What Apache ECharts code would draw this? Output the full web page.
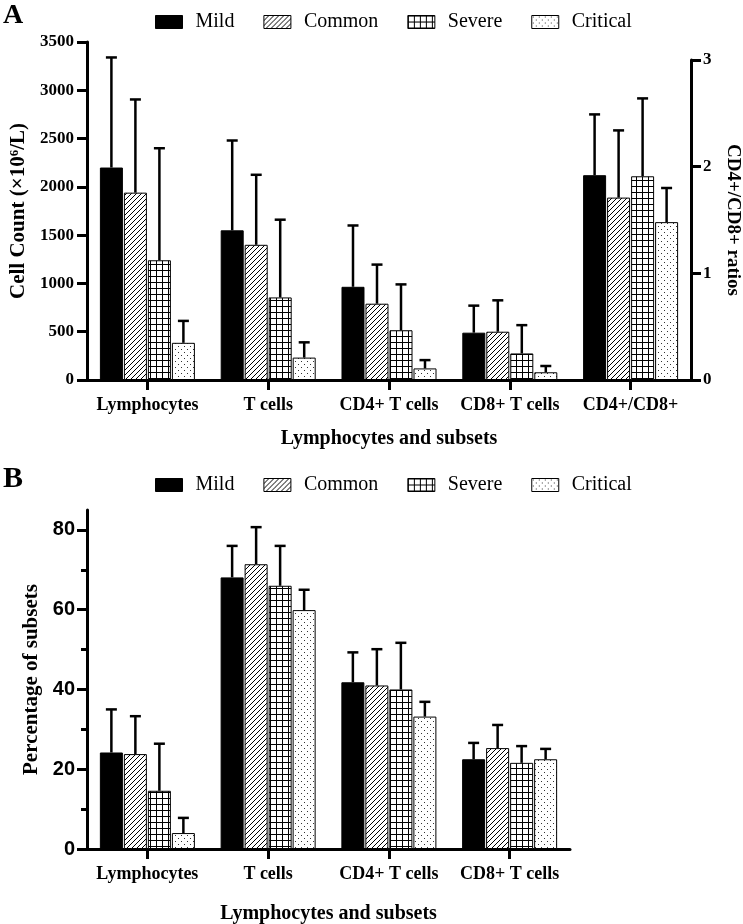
<!DOCTYPE html>
<html><head><meta charset="utf-8">
<script src="https://cdn.jsdelivr.net/npm/echarts@6/dist/echarts.min.js"></script>
<style>html,body{margin:0;padding:0;background:#fff}#c{width:743px;height:924px}</style>
</head><body><div id="c"></div>
<script>
// ---------- DATA ----------
const groups = ['Mild', 'Common', 'Severe', 'Critical'];
const catsA = ['Lymphocytes', 'T cells', 'CD4+ T cells', 'CD8+ T cells', 'CD4+/CD8+'];
const catsB = ['Lymphocytes', 'T cells', 'CD4+ T cells', 'CD8+ T cells'];

// Panel A: cell counts (x10^6/L), mean and SD, for Lymphocytes, T cells, CD4+ T, CD8+ T
const countMild = [2200, 1550, 965, 490];
const countMildSD = [1140, 930, 635, 280];
const countCommon = [1940, 1400, 790, 500];
const countCommonSD = [965, 725, 405, 325];
const countSevere = [1240, 855, 515, 275];
const countSevereSD = [1160, 805, 475, 293];
const countCritical = [385, 232, 120, 80];
const countCriticalSD = [227, 158, 86, 65];

// Panel A: CD4+/CD8+ ratio, mean and SD, order Mild, Common, Severe, Critical
const ratioMean = [1.92, 1.71, 1.91, 1.48];
const ratioSD = [0.57, 0.63, 0.73, 0.32];

// Panel B: percentage of subsets, mean and SD
const pctMild = [24.2, 68.1, 41.8, 22.5];
const pctMildSD = [10.8, 7.9, 7.5, 4.1];
const pctCommon = [23.8, 71.4, 41.0, 25.3];
const pctCommonSD = [9.5, 9.3, 9.1, 5.8];
const pctSevere = [14.6, 66.0, 40.0, 21.6];
const pctSevereSD = [11.8, 10.0, 11.7, 4.2];
const pctCritical = [4.0, 59.9, 33.2, 22.5];
const pctCriticalSD = [3.8, 5.1, 3.7, 2.6];

// Axis ticks
const countTicks = {min: 0, max: 3500, step: 500};
const ratioTicks = {min: 0, max: 3, step: 1};
const pctMajorTicks = [0, 20, 40, 60, 80];
const pctMinorTicks = [10, 30, 50, 70];
const pctMax = 85;

// ---------- STYLE ----------
function pattern(w, h, draw) {
  const c = document.createElement('canvas');
  c.width = w; c.height = h;
  const ctx = c.getContext('2d');
  ctx.fillStyle = '#fff'; ctx.fillRect(0, 0, w, h);
  draw(ctx, w, h);
  return {image: c, repeat: 'repeat'};
}
const fillMild = '#000';
const fillCommon = pattern(5, 5, (ctx, w, h) => {
  ctx.strokeStyle = '#000'; ctx.lineWidth = 1;
  ctx.beginPath();
  ctx.moveTo(-1, h + 1); ctx.lineTo(w + 1, -1);
  ctx.moveTo(-1 - w, h + 1); ctx.lineTo(1, -1);
  ctx.moveTo(w - 1, h + 1); ctx.lineTo(2 * w + 1, -1);
  ctx.stroke();
});
const fillSevere = pattern(6, 6, (ctx) => {
  ctx.fillStyle = '#000';
  ctx.fillRect(0, 0, 6, 1);
  ctx.fillRect(0, 0, 1, 6);
});
const fillCritical = pattern(6, 6, (ctx) => {
  ctx.fillStyle = '#333';
  ctx.fillRect(1, 1, 1, 1);
  ctx.fillRect(4, 4, 1, 1);
});
const fills = [fillMild, fillCommon, fillSevere, fillCritical];

const SERIF = 'Liberation Serif';
const SANS = 'Liberation Sans';
const BAR_W = 23, BAR_STEP = 24;

const countMeans = [countMild, countCommon, countSevere, countCritical];
const countSDs = [countMildSD, countCommonSD, countSevereSD, countCriticalSD];
const pctMeans = [pctMild, pctCommon, pctSevere, pctCritical];
const pctSDs = [pctMildSD, pctCommonSD, pctSevereSD, pctCriticalSD];

function errRender(params, api) {
  const c = api.value(0), g = api.value(1), m = api.value(2), t = api.value(3);
  const p0 = api.coord([c, m]);
  const p1 = api.coord([c, t]);
  const x = p0[0] + (g - 1.5) * BAR_STEP;
  const st = {stroke: '#000', lineWidth: 2.5};
  return {type: 'group', children: [
    {type: 'line', shape: {x1: x, y1: p0[1], x2: x, y2: p1[1]}, style: st},
    {type: 'line', shape: {x1: x - 5.5, y1: p1[1], x2: x + 5.5, y2: p1[1]}, style: st}
  ]};
}

const series = [];
// Panel A counts
groups.forEach((g, gi) => {
  series.push({
    name: g, type: 'bar', xAxisIndex: 0, yAxisIndex: 0,
    barWidth: BAR_W, barGap: '4.35%',
    itemStyle: {color: fills[gi], borderColor: '#000', borderWidth: 1},
    data: countMeans[gi].concat(['-'])
  });
});
const errCountData = [];
groups.forEach((g, gi) => countMeans[gi].forEach((v, ci) => errCountData.push([ci, gi, v, v + countSDs[gi][ci]])));
series.push({type: 'custom', xAxisIndex: 0, yAxisIndex: 0, renderItem: errRender, data: errCountData,
  encode: {x: 0, y: [2, 3]}, z: 5, silent: true});

// Panel A ratios
groups.forEach((g, gi) => {
  series.push({
    name: g, type: 'bar', xAxisIndex: 1, yAxisIndex: 1,
    barWidth: BAR_W, barGap: '4.35%',
    itemStyle: {color: fills[gi], borderColor: '#000', borderWidth: 1},
    data: ['-', '-', '-', '-', ratioMean[gi]]
  });
});
const errRatioData = groups.map((g, gi) => [4, gi, ratioMean[gi], ratioMean[gi] + ratioSD[gi]]);
series.push({type: 'custom', xAxisIndex: 1, yAxisIndex: 1, renderItem: errRender, data: errRatioData,
  encode: {x: 0, y: [2, 3]}, z: 5, silent: true});

// Panel B
groups.forEach((g, gi) => {
  series.push({
    name: g, type: 'bar', xAxisIndex: 2, yAxisIndex: 2,
    barWidth: BAR_W, barGap: '4.35%',
    itemStyle: {color: fills[gi], borderColor: '#000', borderWidth: 1},
    data: pctMeans[gi]
  });
});
const errPctData = [];
groups.forEach((g, gi) => pctMeans[gi].forEach((v, ci) => errPctData.push([ci, gi, v, v + pctSDs[gi][ci]])));
series.push({type: 'custom', xAxisIndex: 2, yAxisIndex: 2, renderItem: errRender, data: errPctData,
  encode: {x: 0, y: [2, 3]}, z: 5, silent: true});

const axisLineStyle = {show: true, lineStyle: {color: '#000', width: 3}};
const tickStyle = {show: true, length: 10, lineStyle: {color: '#000', width: 3}};
const catLabel = {interval: 0, color: '#000', fontFamily: SERIF, fontWeight: 'bold', fontSize: 18, margin: 16};
const nameStyleX = {color: '#000', fontFamily: SERIF, fontWeight: 'bold', fontSize: 20};
const plain = v => String(v);

const legendCommon = {
  data: groups, left: 150, itemWidth: 27, itemHeight: 13, itemGap: 29,
  icon: 'rect',
  itemStyle: {borderColor: '#000', borderWidth: 1},
  textStyle: {color: '#000', fontFamily: SERIF, fontSize: 20, padding: [0, 0, 0, 8]},
  selectedMode: false
};

const option = {
  animation: false,
  backgroundColor: '#fff',
  textStyle: {fontFamily: SERIF},
  legend: [
    Object.assign({}, legendCommon, {top: 7}),
    Object.assign({}, legendCommon, {top: 470})
  ],
  graphic: [
    {type: 'text', left: 3, top: 2, style: {text: 'A', font: 'bold 28px "Liberation Serif"', fill: '#000'}},
    {type: 'text', left: 3, top: 464, style: {text: 'B', font: 'bold 30px "Liberation Serif"', fill: '#000'}}
  ],
  grid: [
    {left: 87, right: 52, top: 42, bottom: 544, containLabel: false, outerBoundsMode: 'none'},
    {left: 87, right: 52, top: 60, bottom: 544, containLabel: false, outerBoundsMode: 'none'},
    {left: 87, right: 173, top: 510, bottom: 75, containLabel: false, outerBoundsMode: 'none'}
  ],
  xAxis: [
    {type: 'category', gridIndex: 0, data: catsA, axisLine: axisLineStyle,
      axisTick: Object.assign({alignWithLabel: true}, tickStyle), axisLabel: catLabel,
      name: 'Lymphocytes and subsets', nameLocation: 'middle', nameGap: 49, nameTextStyle: nameStyleX},
    {type: 'category', gridIndex: 1, data: catsA, show: false},
    {type: 'category', gridIndex: 2, data: catsB, axisLine: axisLineStyle,
      axisTick: Object.assign({alignWithLabel: true}, tickStyle), axisLabel: catLabel,
      name: 'Lymphocytes and subsets', nameLocation: 'middle', nameGap: 55, nameTextStyle: nameStyleX}
  ],
  yAxis: [
    {type: 'value', gridIndex: 0, position: 'left', min: countTicks.min, max: countTicks.max, interval: countTicks.step,
      axisLine: axisLineStyle, axisTick: tickStyle, splitLine: {show: false},
      axisLabel: {formatter: plain, color: '#000', fontFamily: SERIF, fontWeight: 'bold', fontSize: 17, margin: 13},
      name: '{a|Cell Count (×10}{s|6}{a|/L)}', nameLocation: 'middle', nameGap: 58, nameRotate: 90,
      nameTextStyle: {rich: {
        a: {fontFamily: SERIF, fontWeight: 'bold', fontSize: 21, color: '#000'},
        s: {fontFamily: SERIF, fontWeight: 'bold', fontSize: 13, color: '#000', verticalAlign: 'top', padding: [0, 0, 8, 0]}
      }}},
    {type: 'value', gridIndex: 1, position: 'right', min: ratioTicks.min, max: ratioTicks.max, interval: ratioTicks.step,
      axisLine: axisLineStyle, axisTick: tickStyle, splitLine: {show: false},
      axisLabel: {formatter: plain, color: '#000', fontFamily: SERIF, fontWeight: 'bold', fontSize: 17, margin: 12},
      name: 'CD4+/CD8+ ratios', nameLocation: 'middle', nameGap: 32, nameRotate: -90,
      nameTextStyle: {color: '#000', fontFamily: SERIF, fontWeight: 'bold', fontSize: 19}},
    {type: 'value', gridIndex: 2, position: 'left', min: 0, max: pctMax,
      axisLine: axisLineStyle, splitLine: {show: false},
      axisTick: Object.assign({customValues: pctMajorTicks}, tickStyle),
      axisLabel: {customValues: pctMajorTicks, formatter: plain, color: '#000', fontFamily: SANS, fontWeight: 'bold', fontSize: 20, margin: 12},
      name: 'Percentage of subsets', nameLocation: 'middle', nameGap: 39, nameRotate: 90,
      nameTextStyle: {color: '#000', fontFamily: SERIF, fontWeight: 'bold', fontSize: 21}},
    {type: 'value', gridIndex: 2, position: 'left', min: 0, max: pctMax,
      axisLine: {show: false}, splitLine: {show: false}, axisLabel: {show: false},
      axisTick: {show: true, customValues: pctMinorTicks, length: 6, lineStyle: {color: '#000', width: 3}}}
  ],
  series: series
};

const chart = echarts.init(document.getElementById('c'), null, {renderer: 'canvas'});
chart.setOption(option);
</script>
</body></html>
